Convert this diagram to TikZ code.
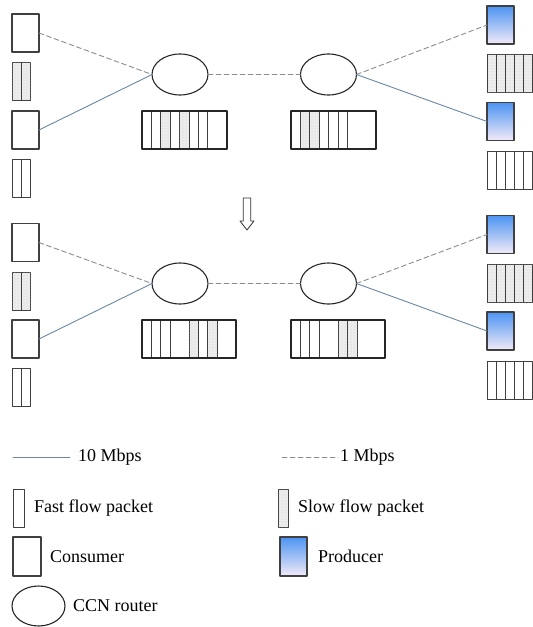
\documentclass[tikz,border=0pt]{standalone}
\usepackage{fontspec}
\setmainfont{Liberation Serif}
\usepackage{tikz}
\usetikzlibrary{shapes.geometric}
\usetikzlibrary{positioning}
\usetikzlibrary{patterns}
\definecolor{linkblue}{rgb}{0.42, 0.53, 0.64}
\definecolor{linkgray}{rgb}{0.55, 0.55, 0.55}
\definecolor{prodtop}{rgb}{0.30, 0.58, 0.95}
\definecolor{prodbot}{rgb}{0.95, 0.92, 0.97}
\tikzset{
	hostbox/.style={draw=black!75, line width=1.1pt, inner sep=0pt, outer sep=0pt, minimum width=27pt, minimum height=38pt},
	consumer/.style={hostbox},
	producer/.style={hostbox, top color=prodtop, bottom color=prodbot},
	router/.style={ellipse, draw=black!85, line width=1.1pt, inner sep=0pt, outer sep=0pt, minimum width=56pt, minimum height=41pt},
	fpkt/.style={draw=black!75, line width=0.9pt, inner sep=0pt, outer sep=0pt, minimum width=9.4pt, minimum height=38pt, anchor=north west},
	spkt/.style={fpkt, fill=black!7, postaction={pattern=dots, pattern color=black!22}},
	queue/.style={draw=black!85, line width=1.1pt, inner sep=0pt, outer sep=0pt, minimum height=38pt, anchor=north west},
	fastlink/.style={color=linkblue, line width=0.9pt},
	slowlink/.style={color=linkgray, line width=0.9pt, dash pattern=on 5pt off 3pt},
	legtext/.style={inner sep=0pt, text=black, font=\fontsize{18}{21}\selectfont}
}
\begin{document}
\begin{tikzpicture}[line cap=round,line join=round, x=1pt, y=-1pt]
					\useasboundingbox (0,0) rectangle (533,627);
					\node[consumer] (c1) at (25.5,33) {};
					\node[consumer] (c2) at (25.5,130) {};
					\foreach \k in {0,1} \node[spkt] (ca\k) at (12+9.5*\k,62) {};
					\foreach \k in {0,1} \node[fpkt] (cb\k) at (12+9.5*\k,159) {};
					\node[router] (r1) at (180,74.5) {};
					\node[router] (r2) at (328.5,74.5) {};
					\node[producer] (p1) at (500.5,25) {};
					\node[producer] (p2) at (500.5,121.5) {};
					\foreach \k in {0,...,4} \node[spkt] (pa\k) at (487+9.1*\k,54) {};
					\foreach \k in {0,...,4} \node[fpkt] (pb\k) at (487+9.1*\k,151) {};
					\foreach \x/\t [count=\k] in {142/fpkt,151.4/fpkt,160.8/spkt,170.2/fpkt,179.6/spkt,189/fpkt,198.4/fpkt}
					\node[\t] (qa\k) at (\x,111) {};
					\node[queue, minimum width=85pt] (q1) at (142,111) {};
					\foreach \x/\t [count=\k] in {291/fpkt,300.4/spkt,309.8/spkt,319.2/fpkt,328.6/fpkt,338/fpkt}
					\node[\t] (qb\k) at (\x,111) {};
					\node[queue, minimum width=85pt] (q2) at (291,111) {};
					\draw[slowlink] (c1.east) -- (r1.west);
					\draw[fastlink] (c2.east) -- (r1.west);
					\draw[slowlink] (r1.east) -- (r2.west);
					\draw[slowlink] (r2.east) -- (p1.west);
					\draw[fastlink] (r2.east) -- (p2.west);
					\draw[line width=0.8pt, draw=black!80, fill=white] (243.3,198) -- (250.7,198) -- (250.7,221) -- (254,221) -- (247,230) -- (240,221) -- (243.3,221) -- cycle;
					\node[consumer] (c3) at (25.5,242.5) {};
					\node[consumer] (c4) at (25.5,339) {};
					\foreach \k in {0,1} \node[spkt] (cc\k) at (12+9.5*\k,272) {};
					\foreach \k in {0,1} \node[fpkt] (cd\k) at (12+9.5*\k,368) {};
					\node[router] (r3) at (180,283.5) {};
					\node[router] (r4) at (328.5,283.5) {};
					\node[producer] (p3) at (500.5,234.5) {};
					\node[producer] (p4) at (500.5,331) {};
					\foreach \k in {0,...,4} \node[spkt] (pc\k) at (487+9.1*\k,264) {};
					\foreach \k in {0,...,4} \node[fpkt] (pd\k) at (487+9.1*\k,361) {};
					\foreach \x/\t [count=\k] in {142/fpkt,151.4/fpkt,160.8/fpkt,189/spkt,198.4/fpkt,207.8/spkt}
					\node[\t] (qc\k) at (\x,320) {};
					\node[queue, minimum width=94pt] (q3) at (142,320) {};
					\foreach \x/\t [count=\k] in {291/fpkt,300.4/fpkt,309.8/fpkt,338.5/spkt,347.9/spkt}
					\node[\t] (qd\k) at (\x,320) {};
					\node[queue, minimum width=94pt] (q4) at (291,320) {};
					\draw[slowlink] (c3.east) -- (r3.west);
					\draw[fastlink] (c4.east) -- (r3.west);
					\draw[slowlink] (r3.east) -- (r4.west);
					\draw[slowlink] (r4.east) -- (p3.west);
					\draw[fastlink] (r4.east) -- (p4.west);
					\coordinate (fa) at (13,457);
					\coordinate (fb) at (70,457);
					\draw[fastlink] (fa) -- (fb);
					\node[legtext, right=8pt of fb] (ft) {10 Mbps};
					\coordinate (sa) at (282,457);
					\coordinate (sb) at (338,457);
					\draw[slowlink] (sa) -- (sb);
					\node[legtext, right=2pt of sb] (st) {1 Mbps};
					\node[fpkt, anchor=center, minimum width=11pt] (lf) at (18.5,508) {};
					\node[legtext, right=10pt of lf] (lft) {Fast flow packet};
					\node[spkt, anchor=center, minimum width=10pt] (ls) at (283,508) {};
					\node[legtext, right=10pt of ls] (lst) {Slow flow packet};
					\node[consumer, minimum width=28pt, minimum height=39pt] (lc) at (27,556.5) {};
					\node[legtext, right=9pt of lc] (lct) {Consumer};
					\node[producer, minimum height=39pt] (lp) at (293.5,556.5) {};
					\node[legtext, right=11pt of lp] (lpt) {Producer};
					\node[router, minimum width=53pt, minimum height=40pt] (lr) at (38.5,606) {};
					\node[legtext, right=8pt of lr] (lrt) {CCN router};
				\end{tikzpicture}
\end{document}
